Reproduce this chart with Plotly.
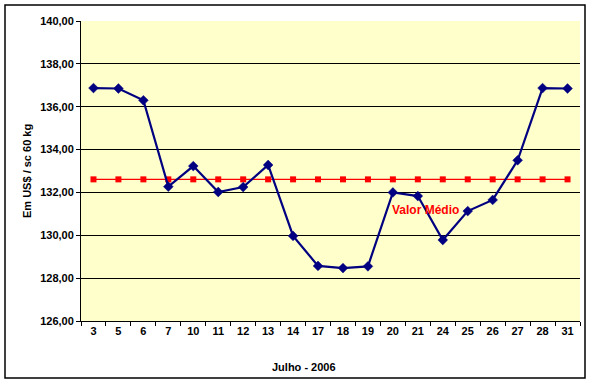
import plotly.graph_objects as go

dias = ["3", "5", "6", "7", "10", "11", "12", "13", "14", "17",
        "18", "19", "20", "21", "24", "25", "26", "27", "28", "31"]
precos = [136.87, 136.85, 136.30, 132.27, 133.23, 132.02, 132.25, 133.28, 129.97, 128.57,
          128.47, 128.55, 132.00, 131.83, 129.78, 131.13, 131.65, 133.50, 136.87, 136.85]
valor_medio = [132.61] * len(dias)
y_ticks = [126, 128, 130, 132, 134, 136, 138, 140]
y_grid = [128, 130, 132, 134, 136, 138]

FONT = "Liberation Sans, Arial, sans-serif"

fig = go.Figure()
fig.add_trace(go.Scatter(
    x=dias, y=valor_medio, mode="lines+markers",
    line=dict(color="#FF0000", width=1.3),
    marker=dict(symbol="square", size=6, color="#FF0000"),
    hoverinfo="skip", showlegend=False))
fig.add_trace(go.Scatter(
    x=dias, y=precos, mode="lines+markers",
    line=dict(color="#000080", width=2.2),
    marker=dict(symbol="diamond", size=7.5, color="#000080",
                line=dict(color="#000080", width=0.5)),
    showlegend=False))

fig.update_layout(
    width=596, height=387,
    margin=dict(l=81, r=16, t=21, b=66),
    paper_bgcolor="white", plot_bgcolor="#FFFFCC",
    separators=",.",
    font=dict(family=FONT, size=11, color="black"),
    xaxis=dict(type="category", range=[-0.5, len(dias) - 0.5],
               showgrid=False, showline=True, linecolor="black", linewidth=1,
               ticks="outside", tickson="boundaries", ticklen=4, tickcolor="black",
               tickfont=dict(family=FONT, size=11, color="black", weight="bold"),
               fixedrange=True),
    yaxis=dict(range=[126, 140], tickvals=y_ticks, tickformat=".2f",
               showgrid=False, zeroline=False,
               minor=dict(tickvals=y_grid, showgrid=True, gridcolor="black", gridwidth=1, ticks=""),
               showline=True, linecolor="black", linewidth=1,
               ticks="outside", ticklen=4, tickcolor="black",
               tickfont=dict(family=FONT, size=11, color="black", weight="bold"),
               fixedrange=True),
    shapes=[dict(type="rect", xref="paper", yref="paper",
                 x0=-76/499, x1=504/499, y0=-57/300, y1=316/300,
                 line=dict(color="black", width=1.5), fillcolor="rgba(0,0,0,0)", layer="below")],
    annotations=[
        dict(text="Em US$ / sc 60 kg", textangle=-90, xref="paper", yref="paper",
             x=-54/499, y=0.5, xanchor="center", yanchor="middle", showarrow=False,
             font=dict(family=FONT, size=11, color="black", weight="bold")),
        dict(text="Julho - 2006", xref="paper", yref="paper",
             x=223/499, y=-46/300, xanchor="center", yanchor="middle", showarrow=False,
             font=dict(family=FONT, size=11, color="black", weight="bold")),
        dict(text="Valor Médio", xref="paper", yref="paper",
             x=344/499, y=111/300, xanchor="center", yanchor="middle", showarrow=False,
             font=dict(family=FONT, size=12, color="#FF0000", weight="bold")),
    ],
)

fig.write_html("out.html", config={"displayModeBar": False},
               post_script="document.body.style.margin='0';document.body.style.overflow='hidden';")
